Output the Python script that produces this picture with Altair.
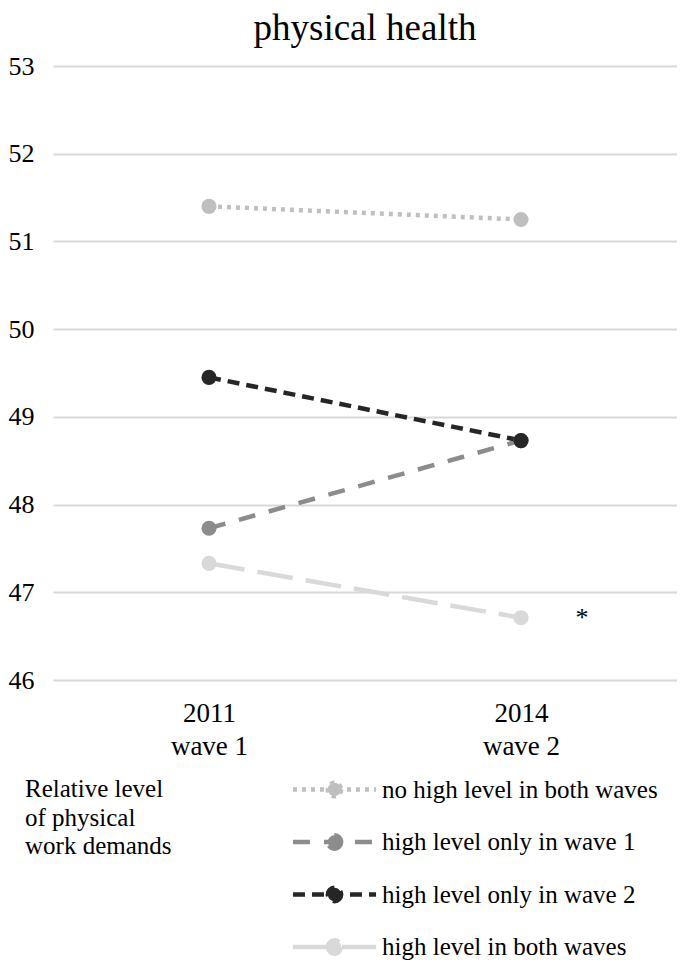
import altair as alt
import pandas as pd

years = ["2011", "2014"]
waves = ["wave 1", "wave 2"]
series = [
    "no high level in both waves",
    "high level only in wave 1",
    "high level only in wave 2",
    "high level in both waves",
]
v2011 = [51.40, 47.73, 49.45, 47.33]
v2014 = [51.25, 48.73, 48.73, 46.71]
colors = ["#bfbfbf", "#8c8c8c", "#262626", "#d9d9d9"]
dashes = [[4, 5], [17, 14], [12, 7], [36, 13]]
legend_title = ["Relative level", "of physical", "work demands"]
star_series = "high level in both waves"

cats = [f"{y}\n{w}" for y, w in zip(years, waves)]
rows = []
for s, a, b in zip(series, v2011, v2014):
    rows.append({"time": cats[0], "series": s, "value": a})
    rows.append({"time": cats[1], "series": s, "value": b})
df = pd.DataFrame(rows)
star_df = pd.DataFrame([{"time": cats[1], "value": v2014[series.index(star_series)], "t": "*"}])

FONT = "Liberation Serif"
path = "M-5,0H5M0.8,0A0.8,0.8,0,1,1,-0.8,0A0.8,0.8,0,1,1,0.8,0Z"

legend = alt.Legend(
    title=legend_title,
    orient="none",
    legendX=-28,
    legendY=711,
    direction="vertical",
    titleOrient="left",
    titleAnchor="start",
    titleBaseline="top",
    titleAlign="left",
    titleFont=FONT,
    titleFontSize=25,
    titleFontWeight="normal",
    titleColor="black",
    titleLineHeight=28.5,
    titlePadding=150,
    labelFont=FONT,
    labelFontSize=25,
    labelColor="black",
    labelOffset=35,
    labelLimit=400,
    rowPadding=19.5,
    symbolType=path,
    symbolSize=276,
    symbolStrokeWidth=4.5,
    symbolOpacity=1,
    padding=0,
)

xenc = alt.X("time:N", sort=cats, title=None,
             scale=alt.Scale(type="point", padding=0.5),
             axis=alt.Axis(labelAngle=0, labelFont=FONT, labelFontSize=27, labelColor="black",
                           labelLineHeight=33, labelPadding=20, ticks=False, domain=False, grid=False,
                           labelExpr="split(datum.label, '\\n')"))
yenc = alt.Y("value:Q", title=None,
             scale=alt.Scale(domain=[46, 53], nice=False, zero=False),
             axis=alt.Axis(values=[46, 47, 48, 49, 50, 51, 52, 53], labelFont=FONT, labelFontSize=26,
                           labelColor="black", labelPadding=19, ticks=False, domain=False,
                           gridColor="#d9d9d9", gridWidth=2))
color_scale = alt.Scale(domain=series, range=colors)

lines = alt.Chart(df).mark_line(strokeWidth=4.5).encode(
    x=xenc, y=yenc,
    stroke=alt.Stroke("series:N", scale=color_scale, legend=legend),
    strokeDash=alt.StrokeDash("series:N", scale=alt.Scale(domain=series, range=dashes), legend=legend),
    detail="series:N",
)
points = alt.Chart(df).mark_point(filled=True, size=230, opacity=1, shape="circle").encode(
    x=xenc, y=yenc,
    fill=alt.Fill("series:N", scale=color_scale, legend=legend),
)
star = alt.Chart(star_df).mark_text(font=FONT, fontSize=26, dx=61, dy=0, color="black").encode(
    x=xenc, y=yenc, text="t:N"
)

chart = alt.layer(lines, points, star).properties(
    width=624, height=614,
    title=alt.TitleParams("physical health", font=FONT, fontSize=37, fontWeight="normal",
                          color="black", offset=5),
    padding={"top": 2, "left": 0, "right": 0, "bottom": 0},
).configure_view(stroke=None)

chart.save("out.html", embed_options={"renderer": "svg", "actions": False})
